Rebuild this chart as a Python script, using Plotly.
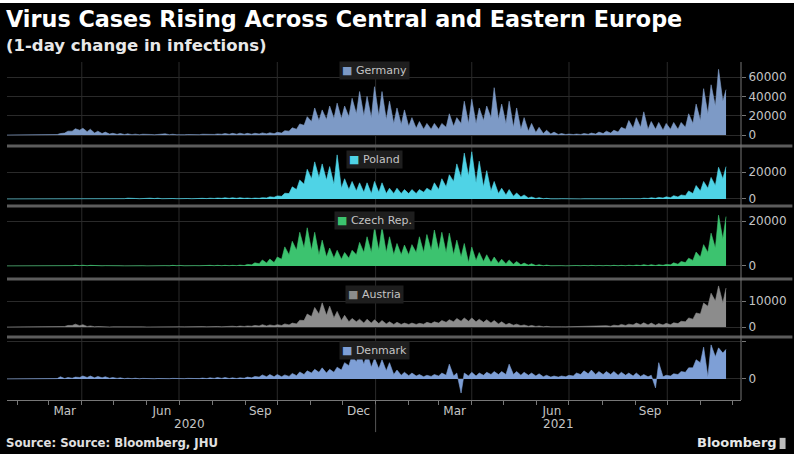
import pandas as pd
import plotly.graph_objects as go

# Weekly readings (thousands of new cases per day): the week's peak day and its low day.
week_start = pd.date_range("2020-01-20", periods=97, freq="7D")

germany_high = [0, 0, 0, 0, 0, 0, 0.2, 1.5, 4, 6.5, 7, 6, 4, 3, 1.8, 1.5, 1.2, 0.9, 0.8, 0.6,
                0.5, 1.2, 0.8, 0.6, 0.5, 0.6, 0.8, 1.0, 1.1, 1.5, 1.7, 1.9, 1.7, 1.8, 2.2, 2.3,
                2.8, 4.5, 7.5, 11.5, 19, 28, 26, 30, 33, 30, 38, 45, 40, 50, 45, 35, 28, 26, 18,
                14, 12, 12, 12, 22, 18, 35, 37, 28, 30, 49, 32, 35, 28, 18, 12, 8, 5, 3, 1.5, 1,
                1, 1.5, 2, 3, 4, 5, 8, 15, 18, 24, 14, 13, 12, 13, 13, 22, 32, 48, 52, 68, 47]
germany_low = [0, 0, 0, 0, 0, 0, 0.1, 0.5, 2, 4, 5, 3.5, 2, 1.5, 1, 0.7, 0.5, 0.4, 0.3, 0.3,
               0.3, 0.4, 0.4, 0.3, 0.3, 0.3, 0.4, 0.5, 0.6, 0.8, 0.8, 0.9, 0.9, 0.9, 1.1, 1.2,
               1.4, 2, 4, 6, 10, 14, 15, 16, 17, 17, 19, 22, 20, 18, 20, 16, 12, 11, 9,
               7, 6, 6, 6, 8, 9, 12, 12, 12, 15, 18, 16, 12, 8, 6, 4, 2.5, 1.5, 1, 0.6, 0.5,
               0.5, 0.6, 0.8, 1, 1.5, 2, 3, 6, 7, 8, 6, 6, 5, 6, 6, 8, 12, 15, 22, 30, 35]

poland_high = [0, 0, 0, 0, 0, 0, 0.01, 0.05, 0.1, 0.25, 0.45, 0.45, 0.55, 0.45, 0.4, 0.5, 0.6,
               0.4, 0.45, 0.6, 0.6, 0.4, 0.35, 0.4, 0.35, 0.35, 0.5, 0.6, 0.7, 0.9, 0.9, 0.9,
               0.7, 0.7, 1.0, 1.6, 2.3, 4.3, 9, 14, 22, 27.5, 26, 24, 32.7, 15, 13, 12, 12, 13,
               12, 8, 8, 7, 7, 7, 8, 12, 15, 18, 26, 34, 35, 28, 21, 13, 8, 7, 4.5, 3, 1.5, 1,
               0.5, 0.3, 0.2, 0.15, 0.15, 0.13, 0.15, 0.2, 0.25, 0.25, 0.25, 0.35, 0.4, 0.6,
               0.9, 1.2, 1.6, 2.5, 3, 6, 10, 13, 16, 23.5, 24]
poland_low = [0, 0, 0, 0, 0, 0, 0, 0.01, 0.05, 0.1, 0.2, 0.25, 0.25, 0.25, 0.2, 0.25, 0.25,
              0.2, 0.2, 0.3, 0.3, 0.2, 0.2, 0.2, 0.2, 0.2, 0.3, 0.3, 0.4, 0.5, 0.5, 0.5,
              0.5, 0.4, 0.5, 0.8, 1.3, 2, 4, 7, 11, 15, 16, 14, 11, 8, 7, 6, 5, 4,
              5, 4, 4, 4, 4, 4, 5, 6, 7, 9, 13, 16, 17, 12, 9, 6, 4, 3, 2, 1.5, 0.8, 0.4,
              0.2, 0.1, 0.1, 0.08, 0.08, 0.07, 0.08, 0.1, 0.1, 0.1, 0.1, 0.15, 0.2, 0.25,
              0.4, 0.5, 0.7, 1, 1.5, 2.5, 4, 6, 8, 10, 15]

czech_high = [0, 0, 0, 0, 0, 0, 0.005, 0.05, 0.2, 0.35, 0.35, 0.3, 0.25, 0.15, 0.1, 0.08, 0.08,
              0.08, 0.1, 0.1, 0.1, 0.15, 0.3, 0.25, 0.15, 0.15, 0.25, 0.3, 0.3, 0.3, 0.3, 0.4,
              0.7, 1.4, 2.7, 3.1, 4, 8.5, 11, 15, 17, 15, 11.5, 8, 7, 6, 7, 10.5, 13, 17,
              17.3, 13, 10, 9.3, 9.5, 13, 14, 16, 15, 14.6, 11.5, 10, 8.4, 6, 5, 4, 3, 2.7, 2,
              1.3, 1, 0.6, 0.4, 0.2, 0.15, 0.15, 0.2, 0.25, 0.3, 0.25, 0.25, 0.3, 0.3, 0.35,
              0.4, 0.6, 0.6, 0.6, 0.7, 1.4, 2, 3.5, 6.2, 9.5, 14.6, 22.6, 22]
czech_low = [0, 0, 0, 0, 0, 0, 0, 0.02, 0.08, 0.15, 0.15, 0.1, 0.1, 0.06, 0.04, 0.03, 0.03,
             0.03, 0.03, 0.03, 0.04, 0.05, 0.08, 0.1, 0.06, 0.06, 0.1, 0.12, 0.12, 0.12, 0.12,
             0.15, 0.2, 0.5, 1, 1.3, 1.5, 3, 5, 7, 8, 7, 5, 4, 3.5, 3, 3.5, 5, 6, 6,
             7, 6, 5, 5, 5, 6, 6, 7, 7, 6, 5, 4, 1.5, 2.5, 2, 1.5, 1.2, 1, 0.8,
             0.5, 0.4, 0.2, 0.1, 0.08, 0.05, 0.05, 0.08, 0.1, 0.1, 0.1, 0.1, 0.1, 0.1, 0.1,
             0.15, 0.2, 0.2, 0.2, 0.3, 0.5, 0.8, 1.5, 2.5, 4, 6, 8, 12]

austria_high = [0, 0, 0, 0, 0, 0, 0.01, 0.1, 0.6, 1.1, 0.9, 0.4, 0.2, 0.1, 0.07, 0.06, 0.05,
                0.05, 0.05, 0.06, 0.06, 0.07, 0.08, 0.1, 0.12, 0.15, 0.15, 0.18, 0.2, 0.2, 0.3,
                0.35, 0.4, 0.6, 0.9, 0.8, 0.9, 1.2, 1.5, 2.6, 5, 7.5, 9.3, 8, 6, 4.5, 3.3, 3,
                3, 2.8, 2.5, 2, 1.8, 1.5, 1.5, 1.4, 1.8, 2, 2.5, 2.8, 3.3, 3.5, 3.5, 3, 2.8,
                2.5, 2, 1.4, 1.1, 0.8, 0.6, 0.4, 0.25, 0.15, 0.1, 0.1, 0.15, 0.25, 0.35, 0.45,
                0.5, 0.7, 1.0, 1.1, 1.5, 1.6, 1.5, 1.3, 1.4, 1.6, 2.2, 3.5, 5.4, 9.2, 13, 15.8, 15]
austria_low = [0, 0, 0, 0, 0, 0, 0, 0.03, 0.2, 0.6, 0.5, 0.2, 0.1, 0.05, 0.03, 0.03, 0.02,
               0.02, 0.02, 0.03, 0.03, 0.03, 0.04, 0.05, 0.06, 0.08, 0.08, 0.1, 0.1, 0.1, 0.15,
               0.15, 0.2, 0.3, 0.4, 0.4, 0.5, 0.6, 0.8, 1.2, 2.5, 4, 5, 4.5, 3.5, 2.5, 2, 2,
               1.5, 1.5, 1.3, 1.2, 1, 1, 1, 1, 1.1, 1.3, 1.5, 1.8, 2, 2.2, 2.2, 2, 1.8,
               1.5, 1.2, 0.9, 0.7, 0.5, 0.3, 0.2, 0.1, 0.08, 0.05, 0.06, 0.08, 0.1, 0.15, 0.2,
               0.25, 0.3, 0.5, 0.6, 0.8, 0.9, 0.8, 0.7, 0.8, 0.9, 1.3, 2, 3, 5, 8, 10, 9.2]

denmark_high = [0, 0, 0, 0, 0, 0, 0.02, 0.3, 0.2, 0.25, 0.4, 0.4, 0.35, 0.3, 0.2, 0.15, 0.1,
                0.1, 0.08, 0.06, 0.06, 0.07, 0.08, 0.06, 0.08, 0.1, 0.12, 0.15, 0.2, 0.2, 0.15,
                0.15, 0.25, 0.35, 0.55, 0.6, 0.6, 0.55, 0.75, 0.95, 1.1, 1.3, 1.5, 1.3, 1.6, 2.2,
                3.2, 3.7, 3.5, 2.8, 2.6, 2.2, 1.2, 0.9, 0.8, 0.6, 0.5, 0.6, 0.8, 2.0, 0.8, 0.8,
                0.9, 0.8, 0.9, 1.0, 1.0, 2.0, 1.0, 0.9, 0.8, 0.7, 0.5, 0.4, 0.4, 0.5, 0.8, 1.1,
                1.2, 1.0, 1.0, 1.0, 0.9, 0.8, 0.8, 0.6, 0.5, 2.2, 0.5, 0.7, 1.0, 1.5, 2.6, 4.3,
                4.6, 4.2, 4.0]
denmark_low = [0, 0, 0, 0, 0, 0, 0, 0.05, 0.05, 0.1, 0.2, 0.2, 0.15, 0.15, 0.1, 0.08, 0.04,
               0.04, 0.03, 0.03, 0.03, 0.03, 0.04, 0.03, 0.04, 0.04, 0.05, 0.05, 0.08, 0.08, 0.06,
               0.06, 0.1, 0.15, 0.25, 0.3, 0.3, 0.3, 0.35, 0.45, 0.6, 0.8, 0.9, 0.8, 0.9, 1.2,
               1.8, 2.3, 2.0, 1.6, 1.4, 1.1, 0.6, 0.5, 0.45, 0.4, 0.3, 0.35, 0.4, 0.5, 0.4, -1.9,
               0.4, 0.4, 0.5, 0.6, 0.6, 0.6, 0.6, 0.5, 0.5, 0.4, 0.3, 0.25, 0.25, 0.3, 0.4, 0.6,
               0.7, 0.6, 0.6, 0.6, 0.5, 0.5, 0.4, 0.35, 0.3, -1.2, 0.3, 0.4, 0.6, 0.9, 1.5, 2.2,
               0.3, 3.0, 3.5]

series = [
    ("Germany", germany_high, germany_low, "#7d9ac6", "y"),
    ("Poland", poland_high, poland_low, "#4fd3e6", "y2"),
    ("Czech Rep.", czech_high, czech_low, "#3cc36f", "y3"),
    ("Austria", austria_high, austria_low, "#8c8c8c", "y4"),
    ("Denmark", denmark_high, denmark_low, "#7e9fd6", "y5"),
]

# Panel domains (paper fraction), value ranges and labelled ticks
panel_domain = [[0.7574, 1.0], [0.5799, 0.7456], [0.3639, 0.5680], [0.1923, 0.3521], [0.0, 0.1805]]
panel_range = [[-9300, 75600], [-3700, 37800], [-4900, 25800], [-3080, 17700], [-2840, 5400]]
panel_ticks = [[0, 20000, 40000, 60000], [0, 20000], [0, 20000], [0, 10000], [0, 5000]]
panel_ticktext = [["0", "20000", "40000", "60000"], ["0", "20000"], ["0", "20000"],
                  ["0", "10000"], ["0", ""]]
label_y = [0.9734, 0.7101, 0.5296, 0.3136, 0.1450]
separator_y = [0.7515, 0.5740, 0.3580, 0.1864]

month_label_dates = ["2020-03-16", "2020-06-15", "2020-09-15", "2020-12-16",
                     "2021-03-16", "2021-06-15", "2021-09-15"]
month_labels = ["Mar", "Jun", "Sep", "Dec", "Mar", "Jun", "Sep"]
month_starts = [d.strftime("%Y-%m-%d") for d in pd.date_range("2020-02-01", "2021-12-01", freq="MS")]
quarter_lines = ["2020-04-01", "2020-07-01", "2020-10-01", "2021-01-01",
                 "2021-04-01", "2021-07-01", "2021-10-01"]
year_labels = ["2020", "2021"]
year_label_dates = ["2020-07-11", "2021-06-21"]

GRID = "#2a2a2a"
AXIS = "#777777"
TEXT = "#c4c4c4"
FONT = "DejaVu Sans"

fig = go.Figure()
for name, high, low, color, yax in series:
    xs, ys = [], []
    for d, lo, hi in zip(week_start, low, high):
        xs += [d, d + pd.Timedelta(days=3)]
        ys += [lo * 1000, hi * 1000]
    fig.add_trace(go.Scatter(
        x=xs, y=ys, mode="lines", fill="tozeroy", fillcolor=color,
        line=dict(color=color, width=0.6), name=name, xaxis="x", yaxis=yax,
        hoverinfo="skip",
    ))

layout = dict(
    width=794, height=454,
    margin=dict(l=7, r=46, t=62, b=54),
    paper_bgcolor="#000000", plot_bgcolor="#000000",
    showlegend=False,
    font=dict(family=FONT, color=TEXT, size=12),
    xaxis=dict(
        domain=[0, 1], anchor="y5", type="date",
        range=["2020-01-22", "2021-12-09"],
        showgrid=False, zeroline=False,
        tickmode="array", tickvals=month_label_dates, ticktext=month_labels,
        ticks="", tickfont=dict(size=12, color=TEXT),
        showline=True, linecolor=AXIS, linewidth=1,
        minor=dict(tickmode="array", tickvals=month_starts, ticks="outside",
                   ticklen=4, tickcolor=AXIS, showgrid=False),
    ),
)

for i in range(5):
    key = "yaxis" if i == 0 else f"yaxis{i + 1}"
    layout[key] = dict(
        domain=panel_domain[i], anchor="x", side="right",
        range=panel_range[i], fixedrange=True,
        tickmode="array", tickvals=panel_ticks[i], ticktext=panel_ticktext[i],
        ticks="outside", ticklen=4, tickcolor=AXIS,
        tickfont=dict(size=12, color=TEXT),
        showgrid=True, gridcolor=GRID, gridwidth=1,
        zeroline=False, showline=False,
    )

shapes = []
for q in quarter_lines:
    shapes.append(dict(type="line", xref="x", yref="paper", x0=q, x1=q, y0=0, y1=1,
                       line=dict(color=GRID, width=1), layer="below"))
for sy in separator_y:
    shapes.append(dict(type="line", xref="paper", yref="paper", x0=0, x1=1.07, y0=sy, y1=sy,
                       line=dict(color="#5c5c5c", width=3)))
shapes.append(dict(type="line", xref="paper", yref="paper", x0=1, x1=1, y0=0, y1=1,
                   line=dict(color=AXIS, width=1)))
shapes.append(dict(type="line", xref="x", yref="paper", x0="2021-01-01", x1="2021-01-01",
                   y0=-0.012, y1=-0.095, line=dict(color="#555555", width=1)))
# thin white page strip along the top edge
shapes.append(dict(type="rect", xref="paper", yref="paper", x0=-0.02, x1=1.08,
                   y0=1.1746, y1=1.19, fillcolor="#ffffff", line=dict(width=0)))
# small logo mark next to the brand name
shapes.append(dict(type="rect", xref="paper", yref="paper", x0=1.0526, x1=1.0607,
                   y0=-0.145, y1=-0.112, fillcolor="#bdbdbd", line=dict(width=0)))
layout["shapes"] = shapes

annotations = [
    dict(text="<b>Virus Cases Rising Across Central and Eastern Europe</b>",
         xref="paper", yref="paper", x=-0.004, y=1.127, xanchor="left", yanchor="middle",
         showarrow=False, font=dict(family=FONT, size=22.3, color="#ffffff")),
    dict(text="<b>(1-day change in infections)</b>",
         xref="paper", yref="paper", x=-0.004, y=1.050, xanchor="left", yanchor="middle",
         showarrow=False, font=dict(family=FONT, size=16.5, color="#e8e8e8")),
    dict(text="<b>Source: Source: Bloomberg, JHU</b>",
         xref="paper", yref="paper", x=-0.004, y=-0.127, xanchor="left", yanchor="middle",
         showarrow=False, font=dict(family=FONT, size=11.7, color="#e0e0e0")),
    dict(text="<b>Bloomberg</b>",
         xref="paper", yref="paper", x=1.052, y=-0.127, xanchor="right", yanchor="middle",
         showarrow=False, font=dict(family=FONT, size=13, color="#e6e6e6")),
]
for (name, _, _, color, _), ly in zip(series, label_y):
    annotations.append(dict(
        text=f"<span style='color:{color}'>■</span> {name}",
        xref="paper", yref="paper", x=0.5, y=ly, xanchor="center", yanchor="middle",
        showarrow=False, bgcolor="#1e1e1e", borderpad=2,
        font=dict(family=FONT, size=11, color=TEXT),
    ))
for lab, d in zip(year_labels, year_label_dates):
    annotations.append(dict(text=lab, xref="x", yref="paper", x=d, y=-0.071,
                            xanchor="center", yanchor="middle", showarrow=False,
                            font=dict(family=FONT, size=12, color=TEXT)))
layout["annotations"] = annotations

fig.update_layout(**layout)
fig.write_html("out.html")
